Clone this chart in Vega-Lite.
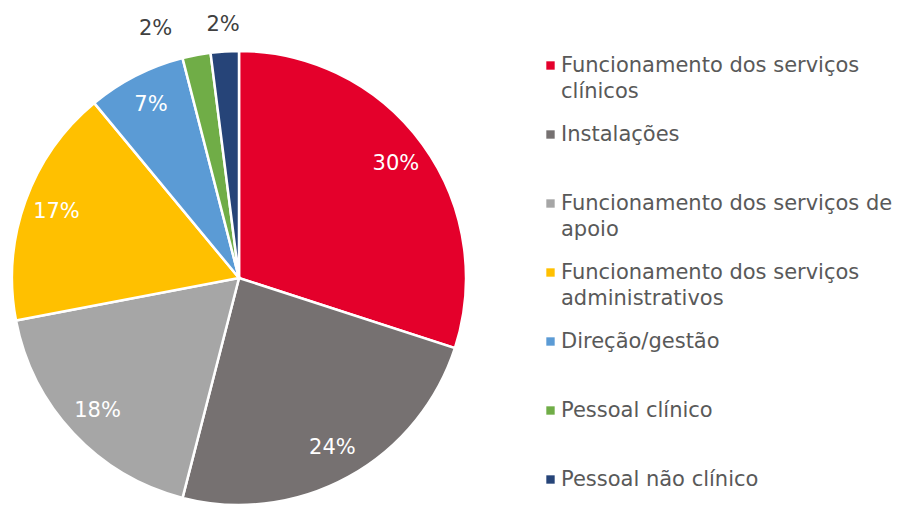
{
  "$schema": "https://vega.github.io/schema/vega-lite/v6.json",
  "width": 454,
  "height": 454,
  "autosize": {"type": "none"},
  "padding": {"left": 12, "top": 51, "right": 439, "bottom": 2},
  "background": "white",
  "config": {
    "view": {"stroke": null},
    "font": "DejaVu Sans",
    "style": {"guide-label": {"lineHeight": 26}}
  },
  "data": {
    "values": [
      {"categoria": "Funcionamento dos serviços clínicos", "valor": 0.30},
      {"categoria": "Instalações", "valor": 0.24},
      {"categoria": "Funcionamento dos serviços de apoio", "valor": 0.18},
      {"categoria": "Funcionamento dos serviços administrativos", "valor": 0.17},
      {"categoria": "Direção/gestão", "valor": 0.07},
      {"categoria": "Pessoal clínico", "valor": 0.02},
      {"categoria": "Pessoal não clínico", "valor": 0.02}
    ]
  },
  "encoding": {
    "theta": {"field": "valor", "type": "quantitative", "stack": true},
    "order": {"field": "idx", "type": "quantitative"}
  },
  "transform": [{"window": [{"op": "row_number", "as": "idx"}]}],
  "layer": [
    {
      "mark": {"type": "arc", "outerRadius": 227, "stroke": "white", "strokeWidth": 2.5},
      "encoding": {
        "color": {
          "field": "categoria",
          "type": "nominal",
          "sort": null,
          "scale": {
            "domain": [
              "Funcionamento dos serviços clínicos",
              "Instalações",
              "Funcionamento dos serviços de apoio",
              "Funcionamento dos serviços administrativos",
              "Direção/gestão",
              "Pessoal clínico",
              "Pessoal não clínico"
            ],
            "range": ["#E4002B", "#767171", "#A6A6A6", "#FFC000", "#5B9BD5", "#70AD47", "#264478"]
          },
          "legend": {
            "title": null,
            "orient": "none",
            "legendX": 528,
            "legendY": 4,
            "symbolType": "square",
            "symbolSize": 70,
            "symbolStrokeWidth": 0,
            "labelFont": "DejaVu Sans",
            "labelFontSize": 21,
            "labelColor": "#595959",
            "labelLimit": 400,
            "labelOffset": 0,
            "rowPadding": 21,
            "labelExpr": "datum.label == 'Funcionamento dos serviços clínicos' ? ['Funcionamento dos serviços', 'clínicos'] : datum.label == 'Funcionamento dos serviços de apoio' ? ['Funcionamento dos serviços de', 'apoio'] : datum.label == 'Funcionamento dos serviços administrativos' ? ['Funcionamento dos serviços', 'administrativos'] : [datum.label, '']"
          }
        }
      }
    },
    {
      "mark": {"type": "text", "radius": 194, "fontSize": 21, "color": "white", "font": "DejaVu Sans"},
      "encoding": {
        "text": {
          "condition": {"test": "datum.valor >= 0.05", "field": "valor", "type": "quantitative", "format": ".0%"},
          "value": ""
        }
      }
    },
    {
      "mark": {"type": "text", "radius": 253, "fontSize": 21, "color": "#404040", "font": "DejaVu Sans"},
      "encoding": {
        "text": {
          "condition": {"test": "datum.categoria == 'Pessoal não clínico'", "field": "valor", "type": "quantitative", "format": ".0%"},
          "value": ""
        }
      }
    },
    {
      "mark": {"type": "text", "radius": 253, "dx": -36, "fontSize": 21, "color": "#404040", "font": "DejaVu Sans"},
      "encoding": {
        "text": {
          "condition": {"test": "datum.categoria == 'Pessoal clínico'", "field": "valor", "type": "quantitative", "format": ".0%"},
          "value": ""
        }
      }
    }
  ]
}
